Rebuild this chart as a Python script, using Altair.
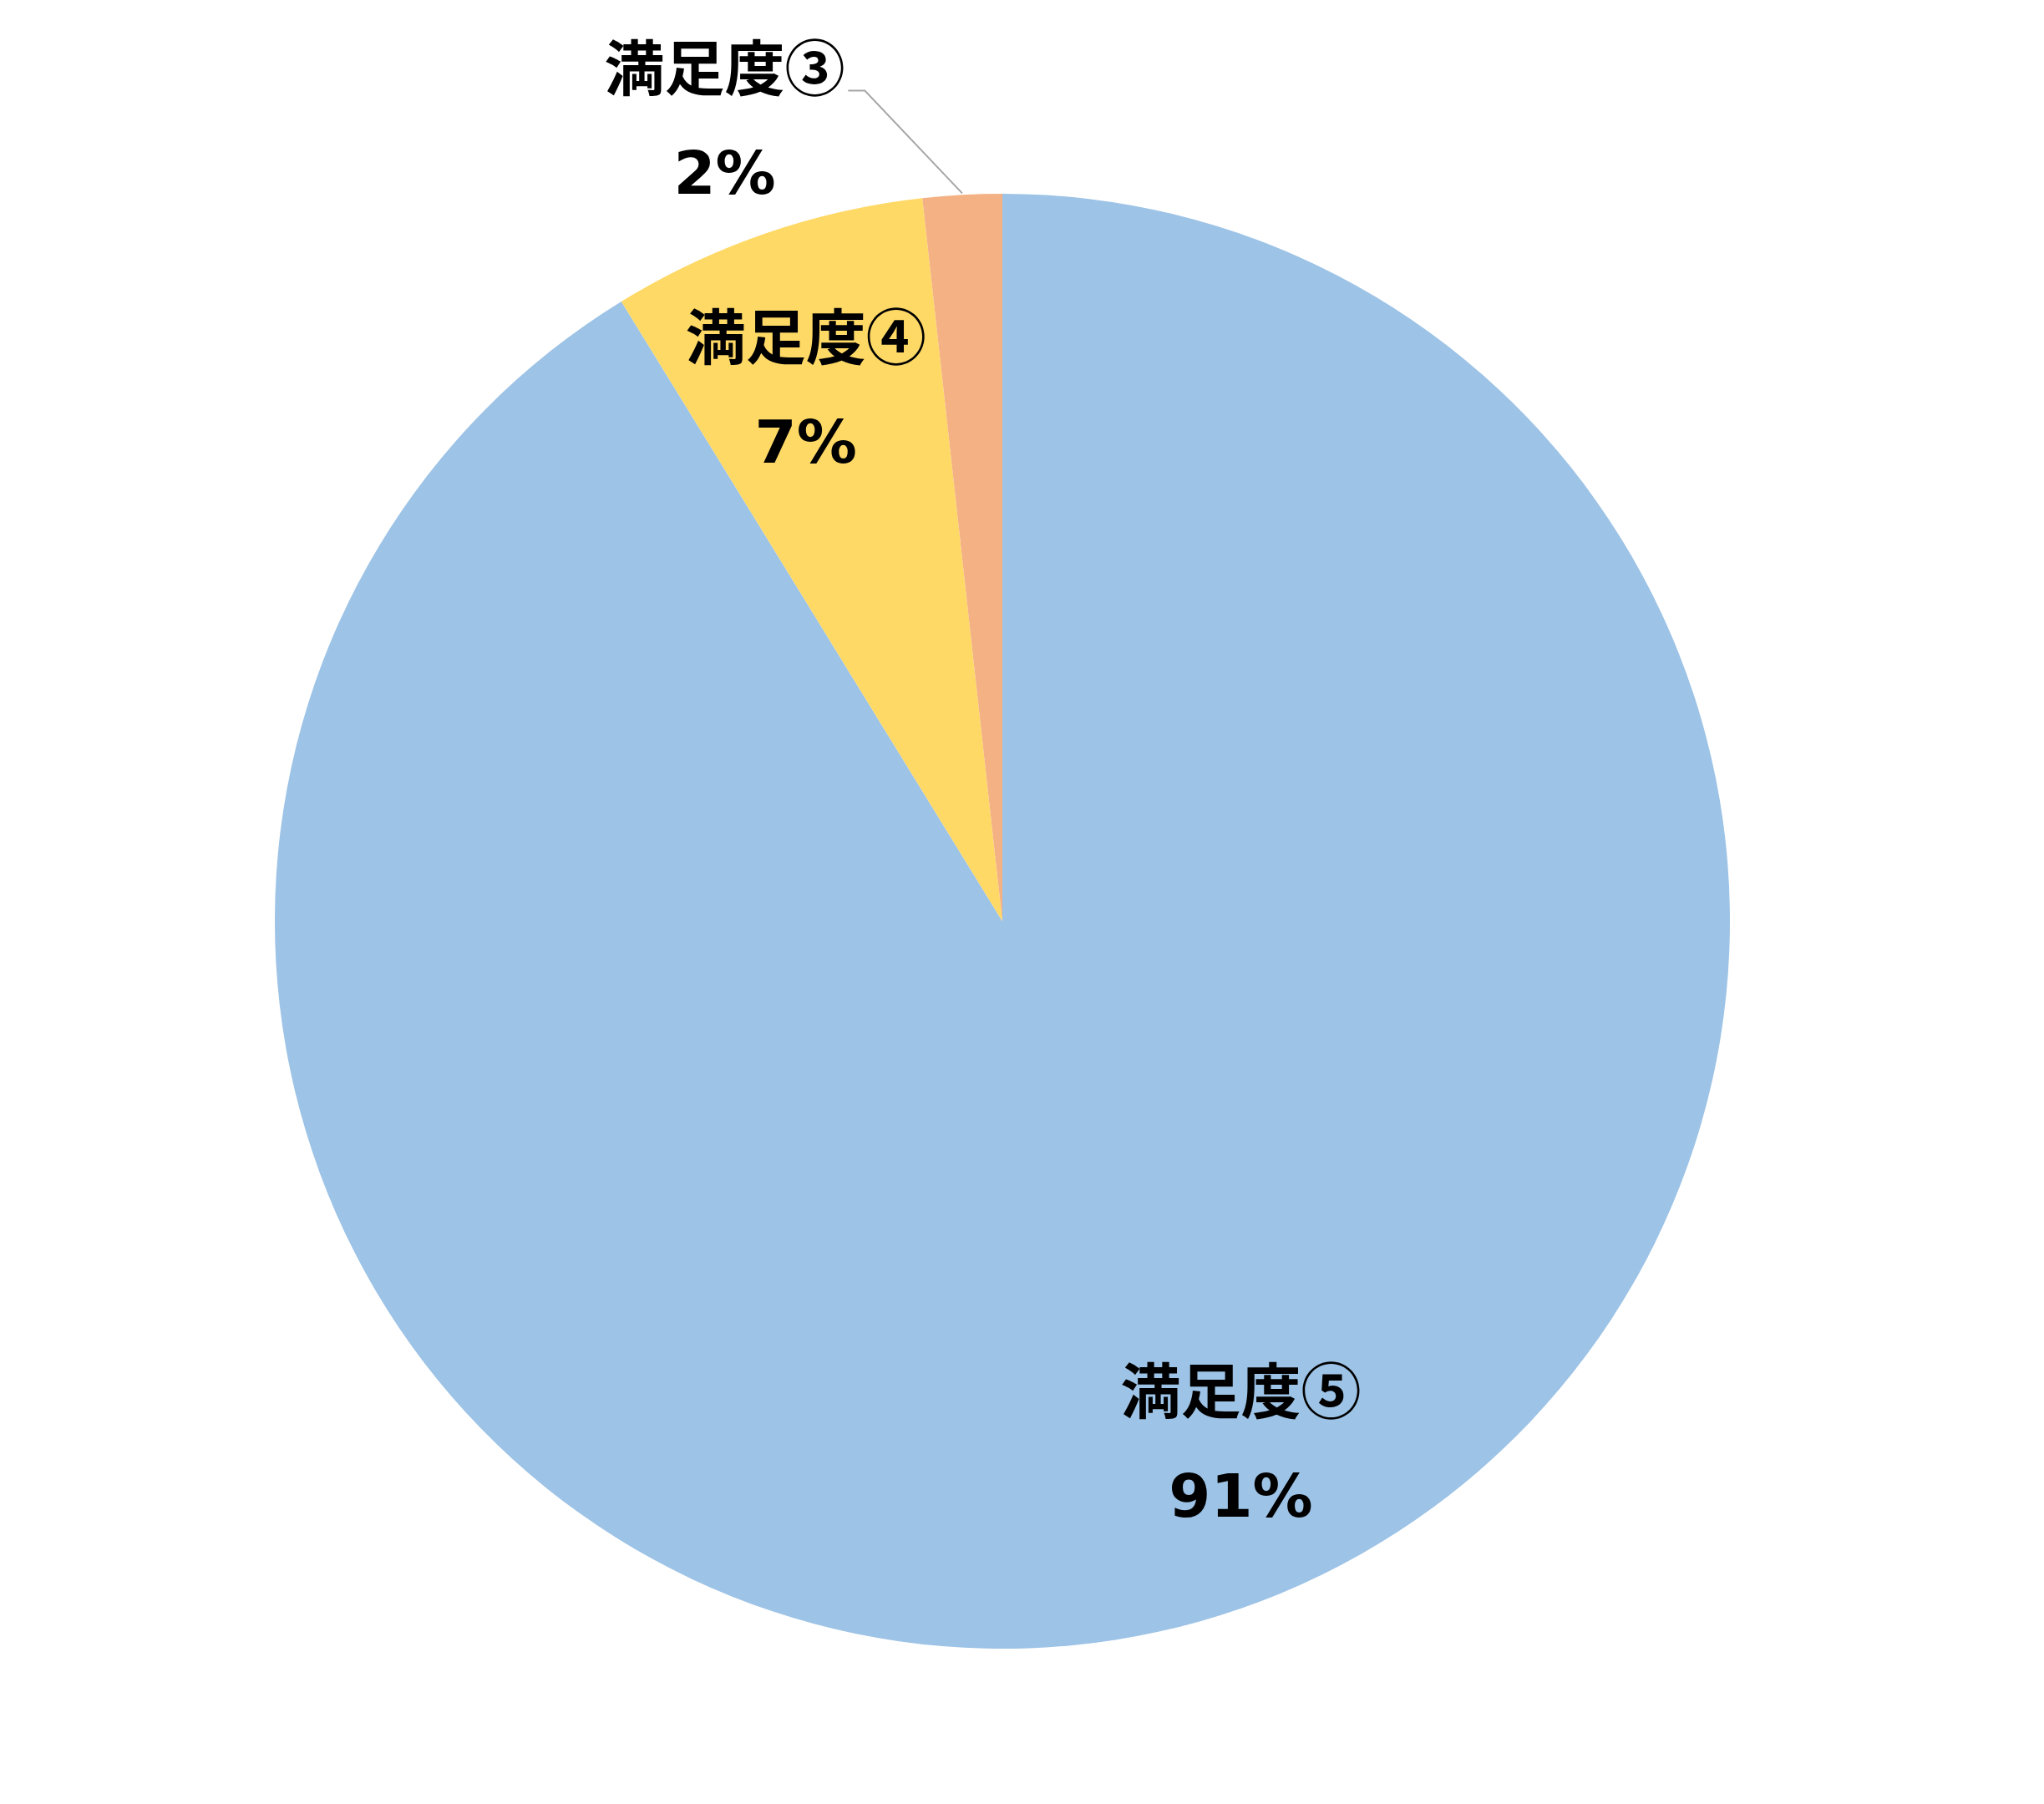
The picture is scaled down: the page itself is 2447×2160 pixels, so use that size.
import math
import altair as alt
import pandas as pd

# ---- data ----
categories = ["満足度⑤", "満足度④", "満足度③"]
counts = [52, 4, 1]
colors = ["#9DC3E6", "#FFD966", "#F4B183"]

total = sum(counts)
percents = [round(c / total * 100) for c in counts]

# ---- layout (chart-space pixels) ----
CX, CY, R = 1192, 1095, 871
label_angle_deg = [155.6, 339.6, 340.8]
label_radius = [691, 675, 1011]
LINE_GAP = 124
CJK_FONT = "Noto Sans CJK JP"
NUM_FONT = "DejaVu Sans"

pie_df = pd.DataFrame({
    "cat": categories,
    "count": counts,
    "order": list(range(len(categories))),
})

lab_x, lab_y = [], []
for a, r in zip(label_angle_deg, label_radius):
    t = math.radians(a)
    lab_x.append(CX + r * math.sin(t))
    lab_y.append(CY - r * math.cos(t))

name_df = pd.DataFrame({
    "label": categories,
    "x": lab_x,
    "y": [v - LINE_GAP / 2 for v in lab_y],
})
pct_df = pd.DataFrame({
    "label": [f"{p}%" for p in percents],
    "x": lab_x,
    "y": [v + LINE_GAP / 2 for v in lab_y],
})

# leader line for the smallest slice
start3 = sum(counts[:2]) / total * 360
mid3 = math.radians(start3 + counts[2] / total * 360 / 2)
elbow = math.radians(-9.4)
p0 = (CX + (R + 2) * math.sin(mid3), CY - (R + 2) * math.cos(mid3))
p1 = (CX + 1008 * math.sin(elbow), CY - 1008 * math.cos(elbow))
p2 = (p1[0] - 20, p1[1])
leader_df = pd.DataFrame({
    "x": [p0[0], p1[0], p2[0]],
    "y": [p0[1], p1[1], p2[1]],
    "i": [0, 1, 2],
})

pie = alt.Chart(pie_df).mark_arc(radius=R).encode(
    theta=alt.Theta("count:Q", stack=True),
    color=alt.Color("cat:N", scale=alt.Scale(domain=categories, range=colors), legend=None),
    order=alt.Order("order:Q"),
    x=alt.value(CX),
    y=alt.value(CY),
)

leader = alt.Chart(leader_df).mark_line(color="#A6A6A6", strokeWidth=2).encode(
    x=alt.X("x:Q", scale=None, axis=None),
    y=alt.Y("y:Q", scale=None, axis=None),
    order="i:Q",
)

names = alt.Chart(name_df).mark_text(
    font=CJK_FONT, fontSize=72, fontWeight="bold", color="#000000",
    align="center", baseline="middle",
).encode(
    x=alt.X("x:Q", scale=None, axis=None),
    y=alt.Y("y:Q", scale=None, axis=None),
    text="label:N",
)

pcts = alt.Chart(pct_df).mark_text(
    font=NUM_FONT, fontSize=72, fontWeight="bold", color="#000000",
    align="center", baseline="middle",
).encode(
    x=alt.X("x:Q", scale=None, axis=None),
    y=alt.Y("y:Q", scale=None, axis=None),
    text="label:N",
)

chart = alt.layer(pie, leader, names, pcts).properties(
    width=2431, height=2144,
    autosize=alt.AutoSizeParams(type="none"),
    padding=0,
    background="#FFFFFF",
).configure_view(stroke=None)

chart.save("out.html", embed_options={"renderer": "svg", "actions": False})
